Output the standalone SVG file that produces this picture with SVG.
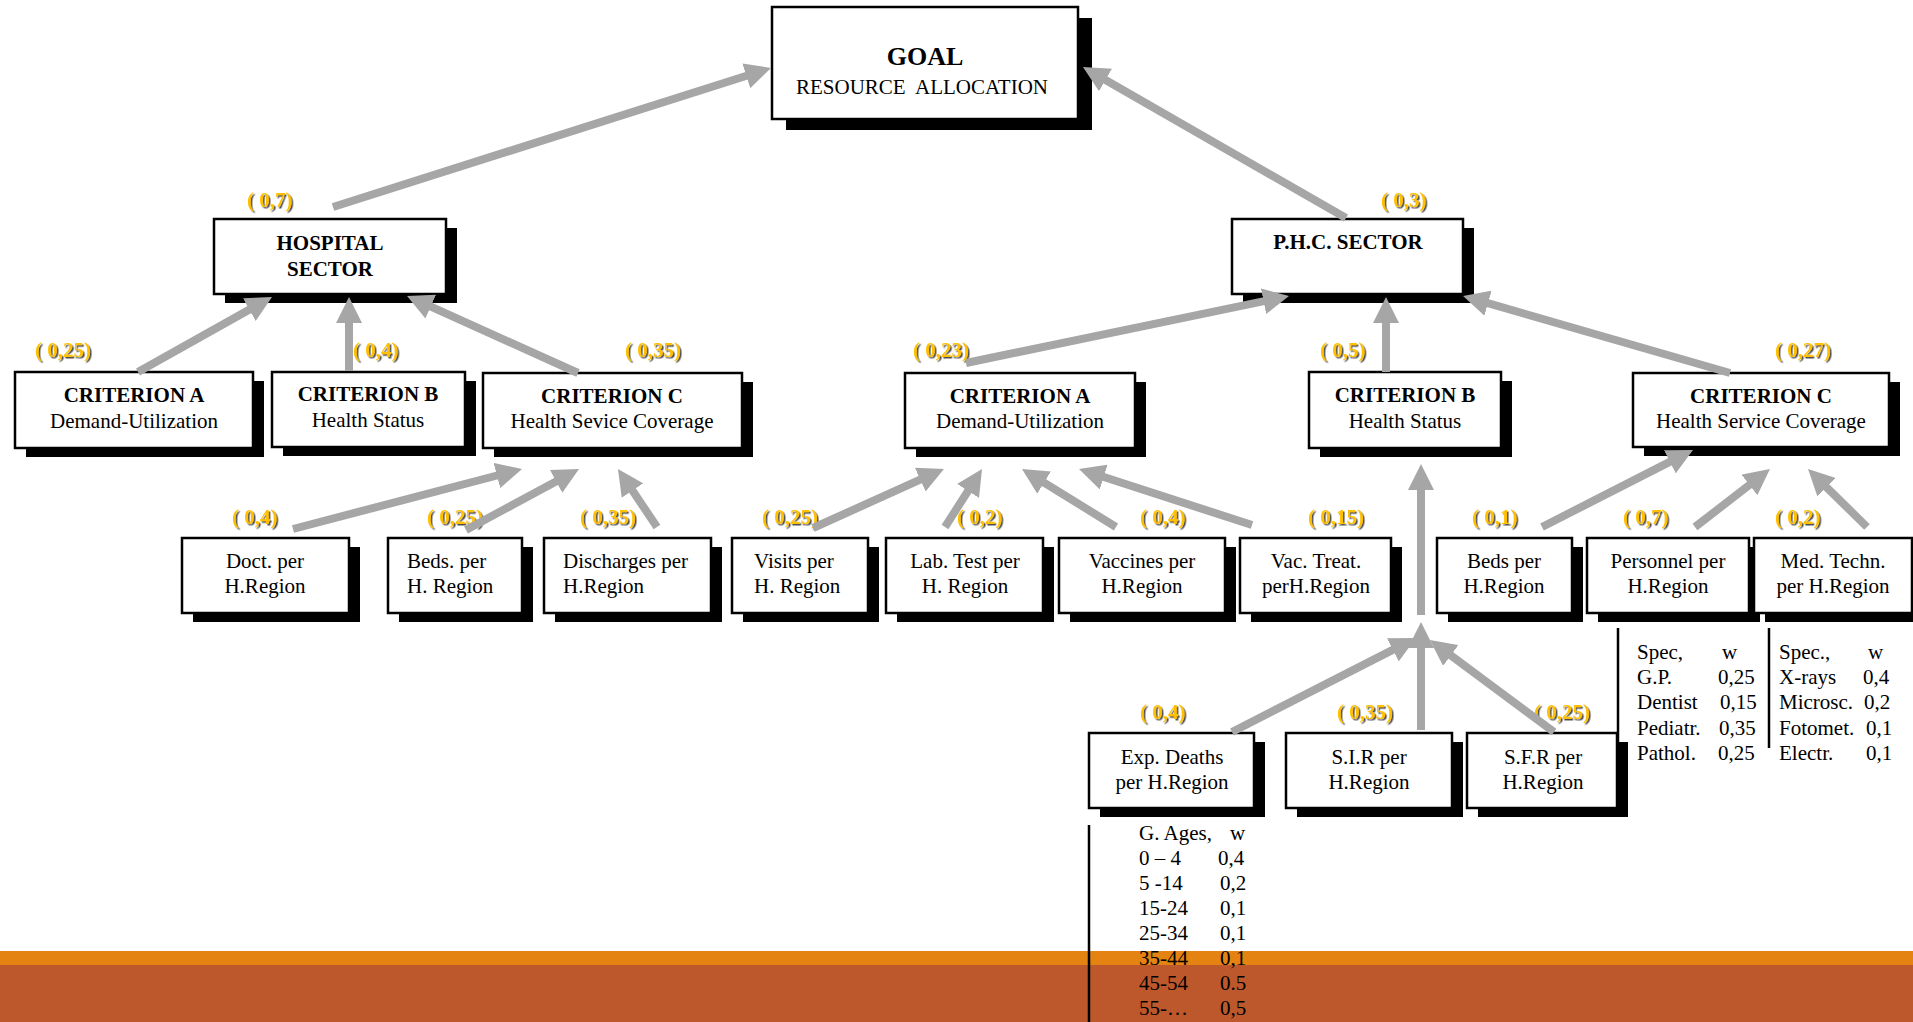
<svg xmlns="http://www.w3.org/2000/svg" width="1913" height="1022" viewBox="0 0 1913 1022">
<defs>
<style>
.box{fill:#fff;stroke:#000;stroke-width:2.5}
.shd{fill:#000}
.t{font-family:"Liberation Serif","Times New Roman",serif;font-size:21px;fill:#000}
.b{font-weight:bold}
.m{text-anchor:middle}
.w{font-family:"Liberation Serif","Times New Roman",serif;font-size:21px;font-weight:bold;fill:#FFC000;filter:url(#sh)}
.arr{stroke:#A6A6A6;stroke-width:8;fill:none;marker-end:url(#ah)}
.tl{stroke:#000;stroke-width:2.5}
</style>
<marker id="ah" markerUnits="userSpaceOnUse" viewBox="0 0 26 26" markerWidth="26" markerHeight="26" refX="12" refY="13" orient="auto">
<path d="M0,0 L26,13 L0,26 z" fill="#A6A6A6"/>
</marker>
<filter id="sh" x="-10%" y="-20%" width="130%" height="150%">
<feDropShadow dx="1.5" dy="1.5" stdDeviation="0.6" flood-color="#3a3a3a" flood-opacity="0.9"/>
</filter>
</defs>
<rect x="0" y="0" width="1913" height="1022" fill="#fff"/>
<g id="footer-bands">
<rect x="0" y="951" width="1913" height="14" fill="#E48312"/>
<rect x="0" y="965" width="1913" height="57" fill="#BD582C"/>
</g>

<g id="goal">
<rect class="shd" x="786" y="18" width="306" height="112"/>
<rect class="box" x="772" y="7" width="306" height="112"/>
<text class="t b m" x="925" y="65" style="font-size:26px">GOAL</text>
<text class="t m" x="922" y="94" xml:space="preserve">RESOURCE  ALLOCATION</text>
</g>

<g id="hospital-sector">
<rect class="shd" x="225" y="228" width="232" height="75"/>
<rect class="box" x="214" y="219" width="232" height="75"/>
<text class="t b m" x="330" y="250">HOSPITAL</text>
<text class="t b m" x="330" y="276">SECTOR</text>
<text class="w" x="247" y="207">( 0,7)</text>
</g>

<g id="phc-sector">
<rect class="shd" x="1243" y="228" width="231" height="75"/>
<rect class="box" x="1232" y="219" width="231" height="75"/>
<text class="t b m" x="1348" y="249">P.H.C. SECTOR</text>
<text class="w" x="1381" y="207">( 0,3)</text>
</g>

<g id="hosp-crit-a">
<rect class="shd" x="26" y="381" width="238" height="76"/>
<rect class="box" x="15" y="372" width="238" height="76"/>
<text class="t b m" x="134" y="402">CRITERION A</text>
<text class="t m" x="134" y="428">Demand-Utilization</text>
<text class="w" x="35" y="357">( 0,25)</text>
</g>

<g id="hosp-crit-b">
<rect class="shd" x="283" y="381" width="193" height="75"/>
<rect class="box" x="272" y="372" width="193" height="75"/>
<text class="t b m" x="368" y="401">CRITERION B</text>
<text class="t m" x="368" y="427">Health Status</text>
<text class="w" x="353" y="357">( 0,4)</text>
</g>

<g id="hosp-crit-c">
<rect class="shd" x="494" y="382" width="259" height="75"/>
<rect class="box" x="483" y="373" width="259" height="75"/>
<text class="t b m" x="612" y="403">CRITERION C</text>
<text class="t m" x="612" y="428">Health Sevice Coverage</text>
<text class="w" x="625" y="357">( 0,35)</text>
</g>

<g id="phc-crit-a">
<rect class="shd" x="916" y="382" width="230" height="75"/>
<rect class="box" x="905" y="373" width="230" height="75"/>
<text class="t b m" x="1020" y="403">CRITERION A</text>
<text class="t m" x="1020" y="428">Demand-Utilization</text>
<text class="w" x="913" y="357">( 0,23)</text>
</g>

<g id="phc-crit-b">
<rect class="shd" x="1320" y="381" width="192" height="76"/>
<rect class="box" x="1309" y="372" width="192" height="76"/>
<text class="t b m" x="1405" y="402">CRITERION B</text>
<text class="t m" x="1405" y="428">Health Status</text>
<text class="w" x="1320" y="357">( 0,5)</text>
</g>

<g id="phc-crit-c">
<rect class="shd" x="1644" y="382" width="256" height="74"/>
<rect class="box" x="1633" y="373" width="256" height="74"/>
<text class="t b m" x="1761" y="403">CRITERION C</text>
<text class="t m" x="1761" y="428">Health Service Coverage</text>
<text class="w" x="1775" y="357">( 0,27)</text>
</g>

<g id="doct">
<rect class="shd" x="193" y="547" width="167" height="75"/>
<rect class="box" x="182" y="538" width="167" height="75"/>
<text class="t m" x="265" y="568">Doct. per</text>
<text class="t m" x="265" y="593">H.Region</text>
<text class="w" x="232" y="524">( 0,4)</text>
</g>

<g id="beds-hosp">
<rect class="shd" x="399" y="547" width="134" height="75"/>
<rect class="box" x="388" y="538" width="134" height="75"/>
<text class="t" x="407" y="568">Beds. per</text>
<text class="t" x="407" y="593">H. Region</text>
<text class="w" x="427" y="524">( 0,25)</text>
</g>

<g id="discharges">
<rect class="shd" x="555" y="547" width="167" height="75"/>
<rect class="box" x="544" y="538" width="167" height="75"/>
<text class="t" x="563" y="568">Discharges per</text>
<text class="t" x="563" y="593">H.Region</text>
<text class="w" x="580" y="524">( 0,35)</text>
</g>

<g id="visits">
<rect class="shd" x="743" y="547" width="136" height="75"/>
<rect class="box" x="732" y="538" width="136" height="75"/>
<text class="t" x="754" y="568">Visits per</text>
<text class="t" x="754" y="593">H. Region</text>
<text class="w" x="762" y="524">( 0,25)</text>
</g>

<g id="labtest">
<rect class="shd" x="897" y="547" width="157" height="75"/>
<rect class="box" x="886" y="538" width="157" height="75"/>
<text class="t m" x="965" y="568">Lab. Test per</text>
<text class="t m" x="965" y="593">H. Region</text>
<text class="w" x="957" y="524">( 0,2)</text>
</g>

<g id="vaccines">
<rect class="shd" x="1070" y="547" width="166" height="75"/>
<rect class="box" x="1059" y="538" width="166" height="75"/>
<text class="t m" x="1142" y="568">Vaccines per</text>
<text class="t m" x="1142" y="593">H.Region</text>
<text class="w" x="1140" y="524">( 0,4)</text>
</g>

<g id="vactreat">
<rect class="shd" x="1251" y="547" width="151" height="75"/>
<rect class="box" x="1240" y="538" width="151" height="75"/>
<text class="t m" x="1316" y="568">Vac. Treat.</text>
<text class="t m" x="1316" y="593">perH.Region</text>
<text class="w" x="1308" y="524">( 0,15)</text>
</g>

<g id="beds-phc">
<rect class="shd" x="1448" y="547" width="135" height="75"/>
<rect class="box" x="1437" y="538" width="135" height="75"/>
<text class="t m" x="1504" y="568">Beds per</text>
<text class="t m" x="1504" y="593">H.Region</text>
<text class="w" x="1472" y="524">( 0,1)</text>
</g>

<g id="personnel">
<rect class="shd" x="1598" y="547" width="162" height="75"/>
<rect class="box" x="1587" y="538" width="162" height="75"/>
<text class="t m" x="1668" y="568">Personnel per</text>
<text class="t m" x="1668" y="593">H.Region</text>
<text class="w" x="1623" y="524">( 0,7)</text>
</g>

<g id="medtechn">
<rect class="shd" x="1765" y="547" width="158" height="75"/>
<rect class="box" x="1754" y="538" width="158" height="75"/>
<text class="t m" x="1833" y="568">Med. Techn.</text>
<text class="t m" x="1833" y="593">per H.Region</text>
<text class="w" x="1775" y="524">( 0,2)</text>
</g>

<g id="expdeaths">
<rect class="shd" x="1100" y="742" width="165" height="75"/>
<rect class="box" x="1089" y="733" width="165" height="75"/>
<text class="t m" x="1172" y="764">Exp. Deaths</text>
<text class="t m" x="1172" y="789">per H.Region</text>
<text class="w" x="1140" y="719">( 0,4)</text>
</g>

<g id="sir">
<rect class="shd" x="1297" y="742" width="166" height="75"/>
<rect class="box" x="1286" y="733" width="166" height="75"/>
<text class="t m" x="1369" y="764">S.I.R per</text>
<text class="t m" x="1369" y="789">H.Region</text>
<text class="w" x="1337" y="719">( 0,35)</text>
</g>

<g id="sfr">
<rect class="shd" x="1478" y="742" width="150" height="75"/>
<rect class="box" x="1467" y="733" width="150" height="75"/>
<text class="t m" x="1543" y="764">S.F.R per</text>
<text class="t m" x="1543" y="789">H.Region</text>
<text class="w" x="1534" y="719">( 0,25)</text>
</g>

<g id="table-ages">
<line class="tl" x1="1089" y1="825" x2="1089" y2="1022"/>
<text class="t" x="1139" y="840">G. Ages,</text><text class="t" x="1230" y="840">w</text>
<text class="t" x="1139" y="865">0 – 4</text><text class="t" x="1218" y="865">0,4</text>
<text class="t" x="1139" y="890">5 -14</text><text class="t" x="1220" y="890">0,2</text>
<text class="t" x="1139" y="915">15-24</text><text class="t" x="1220" y="915">0,1</text>
<text class="t" x="1139" y="940">25-34</text><text class="t" x="1220" y="940">0,1</text>
<text class="t" x="1139" y="965">35-44</text><text class="t" x="1220" y="965">0,1</text>
<text class="t" x="1139" y="990">45-54</text><text class="t" x="1220" y="990">0.5</text>
<text class="t" x="1139" y="1015">55-…</text><text class="t" x="1220" y="1015">0,5</text>
</g>

<g id="table-personnel">
<line class="tl" x1="1618" y1="628" x2="1618" y2="742"/>
<text class="t" x="1637" y="659">Spec,</text><text class="t" x="1722" y="659">w</text>
<text class="t" x="1637" y="684">G.P.</text><text class="t" x="1718" y="684">0,25</text>
<text class="t" x="1637" y="709">Dentist</text><text class="t" x="1720" y="709">0,15</text>
<text class="t" x="1637" y="735">Pediatr.</text><text class="t" x="1719" y="735">0,35</text>
<text class="t" x="1637" y="760">Pathol.</text><text class="t" x="1718" y="760">0,25</text>
</g>

<g id="table-medtechn">
<line class="tl" x1="1769" y1="628" x2="1769" y2="748"/>
<text class="t" x="1779" y="659">Spec.,</text><text class="t" x="1868" y="659">w</text>
<text class="t" x="1779" y="684">X-rays</text><text class="t" x="1863" y="684">0,4</text>
<text class="t" x="1779" y="709">Microsc.</text><text class="t" x="1864" y="709">0,2</text>
<text class="t" x="1779" y="735">Fotomet.</text><text class="t" x="1866" y="735">0,1</text>
<text class="t" x="1779" y="760">Electr.</text><text class="t" x="1866" y="760">0,1</text>
</g>

<g id="connectors">
<line class="arr" x1="333" y1="207" x2="757.7" y2="72.2"/>
<line class="arr" x1="1346" y1="218" x2="1095.1" y2="74"/>
<line class="arr" x1="138" y1="372" x2="259.8" y2="303.8"/>
<line class="arr" x1="349" y1="371" x2="349" y2="311"/>
<line class="arr" x1="578" y1="373" x2="419.8" y2="301.7"/>
<line class="arr" x1="293" y1="529" x2="508.5" y2="472.5"/>
<line class="arr" x1="466" y1="530" x2="566.7" y2="475.7"/>
<line class="arr" x1="657" y1="527" x2="625.8" y2="480.6"/>
<line class="arr" x1="966" y1="363" x2="1275.3" y2="298.8"/>
<line class="arr" x1="1386" y1="372" x2="1386" y2="311"/>
<line class="arr" x1="1730" y1="373" x2="1476.5" y2="299.9"/>
<line class="arr" x1="813" y1="528" x2="931.2" y2="474.7"/>
<line class="arr" x1="945" y1="527" x2="974.5" y2="480.8"/>
<line class="arr" x1="1116" y1="527" x2="1033.9" y2="476.3"/>
<line class="arr" x1="1252" y1="525" x2="1092.3" y2="473.3"/>
<line class="arr" x1="1421" y1="615" x2="1421" y2="478"/>
<line class="arr" x1="1232" y1="732" x2="1403.5" y2="644.4"/>
<line class="arr" x1="1421" y1="730" x2="1421" y2="636"/>
<line class="arr" x1="1554" y1="732" x2="1441.2" y2="648.3"/>
<line class="arr" x1="1542" y1="527" x2="1680.5" y2="456.4"/>
<line class="arr" x1="1695" y1="527" x2="1758.9" y2="477.6"/>
<line class="arr" x1="1867" y1="527" x2="1818" y2="478.8"/>
</g>
</svg>
